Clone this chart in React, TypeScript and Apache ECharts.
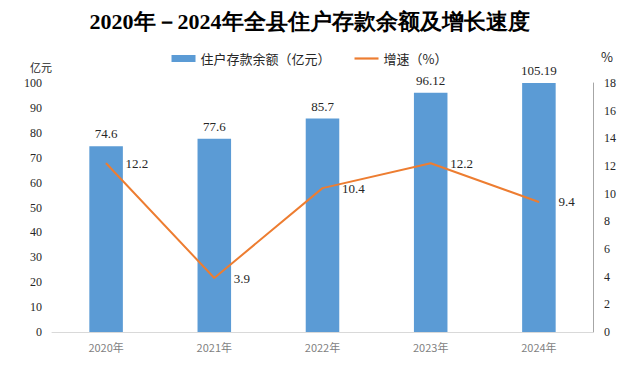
import React, { useEffect, useRef } from "react";
import * as echarts from "echarts";

const categories = ["2020年", "2021年", "2022年", "2023年", "2024年"];
const balance = [74.6, 77.6, 85.7, 96.12, 105.19];
const growth = [12.2, 3.9, 10.4, 12.2, 9.4];
const leftTicks = { min: 0, max: 100, interval: 10 };
const rightTicks = { min: 0, max: 18, interval: 2 };

const serif = "'Liberation Serif', 'Times New Roman', serif";
const sans = "'Noto Sans CJK SC', 'Noto Sans', sans-serif";

export default function App() {
  const ref = useRef<HTMLDivElement>(null);
  useEffect(() => {
    if (!ref.current) return;
    const chart = echarts.init(ref.current, undefined, { renderer: "svg" });
    chart.setOption({
      animation: false,
      backgroundColor: "#ffffff",
      title: {
        text: "2020年－2024年全县住户存款余额及增长速度",
        left: "center",
        top: 5,
        textStyle: {
          fontFamily: serif,
          fontWeight: "bold",
          fontSize: 22,
          color: "#000000",
        },
      },
      legend: {
        top: 47,
        left: "center",
        itemGap: 24,
        itemWidth: 24,
        itemHeight: 7,
        symbolKeepAspect: true,
        textStyle: { fontFamily: sans, fontSize: 13, color: "#262626" },
        data: [
          { name: "住户存款余额（亿元）", icon: "rect" },
          { name: "增速（%）", icon: "path://M0,0 L24,0 L24,2.2 L0,2.2 Z" },
        ],
      },
      grid: { left: 52, right: 26, top: 83, bottom: 36, containLabel: false },
      xAxis: {
        type: "category",
        data: categories,
        axisLine: { show: true, lineStyle: { color: "#D9D9D9", width: 1 } },
        axisTick: { show: false },
        axisLabel: { color: "#7F7F7F", fontFamily: sans, fontSize: 11, margin: 9 },
      },
      yAxis: [
        {
          type: "value",
          min: leftTicks.min,
          max: leftTicks.max,
          interval: leftTicks.interval,
          name: "亿元",
          nameLocation: "end",
          nameGap: 11,
          nameTextStyle: { fontFamily: sans, fontSize: 11, color: "#262626", align: "right" },
          axisLine: { show: false },
          axisTick: { show: false },
          splitLine: { show: false },
          axisLabel: { color: "#262626", fontFamily: serif, fontSize: 12, margin: 10 },
        },
        {
          type: "value",
          min: rightTicks.min,
          max: rightTicks.max,
          interval: rightTicks.interval,
          name: "%",
          nameLocation: "end",
          nameGap: 20,
          nameTextStyle: { fontFamily: sans, fontSize: 13, color: "#262626", align: "left", padding: [0, 0, 0, 8] },
          axisLine: { show: true, lineStyle: { color: "#A6A6A6", width: 1 } },
          axisTick: { show: false },
          splitLine: { show: false },
          axisLabel: { color: "#262626", fontFamily: serif, fontSize: 12, margin: 11 },
        },
      ],
      series: [
        {
          name: "住户存款余额（亿元）",
          type: "bar",
          data: balance,
          yAxisIndex: 0,
          barWidth: "31%",
          clip: true,
          itemStyle: { color: "#5B9BD5" },
          label: {
            show: true,
            position: "top",
            distance: 6,
            fontFamily: serif,
            fontSize: 13,
            color: "#262626",
          },
        },
        {
          name: "增速（%）",
          type: "line",
          data: growth,
          yAxisIndex: 1,
          symbol: "circle",
          symbolSize: 1,
          showSymbol: true,
          lineStyle: { color: "#ED7D31", width: 2 },
          itemStyle: { color: "#ED7D31" },
          label: {
            show: true,
            position: "right",
            distance: 19,
            fontFamily: serif,
            fontSize: 13,
            color: "#262626",
          },
        },
      ],
    });
    return () => chart.dispose();
  }, []);
  return (
    <div
      ref={ref}
      style={{ position: "absolute", left: 0, top: 0, width: 619, height: 368 }}
    />
  );
}
